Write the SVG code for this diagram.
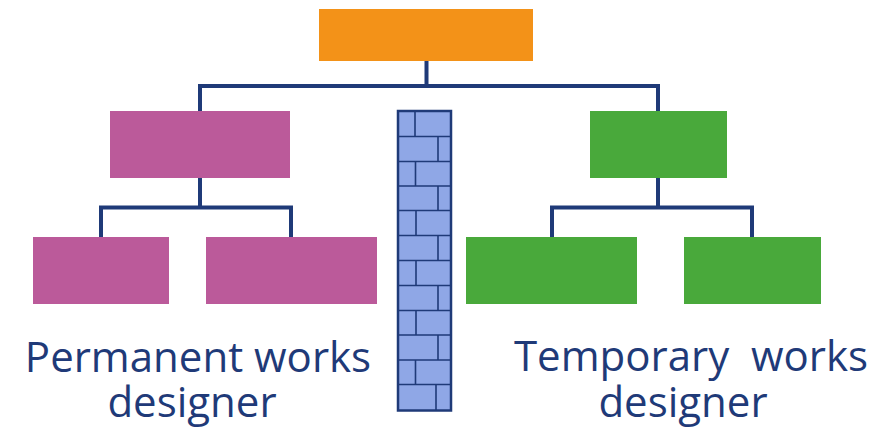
<svg xmlns="http://www.w3.org/2000/svg" width="889" height="431" viewBox="0 0 889 431">
  <style>
    .orange { fill: #f39218; }
    .pink { fill: #bb5a9a; }
    .green { fill: #49a93b; }
    .link { fill: none; stroke: #1f3a78; stroke-width: 4; stroke-linecap: square; stroke-linejoin: miter; }
    .wall { fill: #8fa7e6; stroke: #1f3a78; stroke-width: 2.5; }
    .joint { stroke: #1f3a78; stroke-width: 1.6; fill: none; }
    .label { font-family: "Open Sans", "Noto Sans", sans-serif; font-size: 42px; fill: #1f3a78; white-space: pre; }
  </style>

  <!-- connectors -->
  <g id="connectors">
    <path class="link" d="M426.5 61 V86 M200 110 V86 H658 V110"/>
    <path class="link" d="M200 178 V207.5 M101 237 V207.5 H291 V237"/>
    <path class="link" d="M658 178 V207.5 M552 237 V207.5 H752 V237"/>
  </g>

  <!-- organisation boxes -->
  <g id="client"><rect class="orange" x="319" y="9" width="214" height="52"/></g>
  <g id="permanent-lead"><rect class="pink" x="110" y="111" width="180" height="67"/></g>
  <g id="permanent-a"><rect class="pink" x="33" y="237" width="136" height="67"/></g>
  <g id="permanent-b"><rect class="pink" x="206" y="237" width="171" height="67"/></g>
  <g id="temporary-lead"><rect class="green" x="590" y="111" width="137" height="67"/></g>
  <g id="temporary-a"><rect class="green" x="466" y="237" width="171" height="67"/></g>
  <g id="temporary-b"><rect class="green" x="684" y="237" width="137" height="67"/></g>

  <!-- brick wall separating the two teams -->
  <g id="wall">
    <rect class="wall" x="398" y="111" width="53" height="299.5"/>
    <path class="joint" d="M398 136.5 H451 M398 161.5 H451 M398 186 H451 M398 210.5 H451 M398 235.5 H451 M398 260.5 H451 M398 285.5 H451 M398 310.5 H451 M398 335 H451 M398 360 H451 M398 384.5 H451"/>
    <path class="joint" d="M415 111 V136.5 M438 136.5 V161.5 M415.5 161.5 V186 M438 186 V210.5 M416 210.5 V235.5 M438 235.5 V260.5 M416 260.5 V285.5 M438 285.5 V310.5 M416 310.5 V335 M438 335 V360 M415.5 360 V384.5 M436 384.5 V410"/>
  </g>

  <!-- team labels -->
  <g id="label-permanent">
    <text class="label" x="198" y="372" text-anchor="middle">Permanent works</text>
    <text class="label" x="192" y="417" text-anchor="middle">designer</text>
  </g>
  <g id="label-temporary">
    <text class="label" x="691" y="371" text-anchor="middle">Temporary  works</text>
    <text class="label" x="683" y="417" text-anchor="middle">designer</text>
  </g>
</svg>
